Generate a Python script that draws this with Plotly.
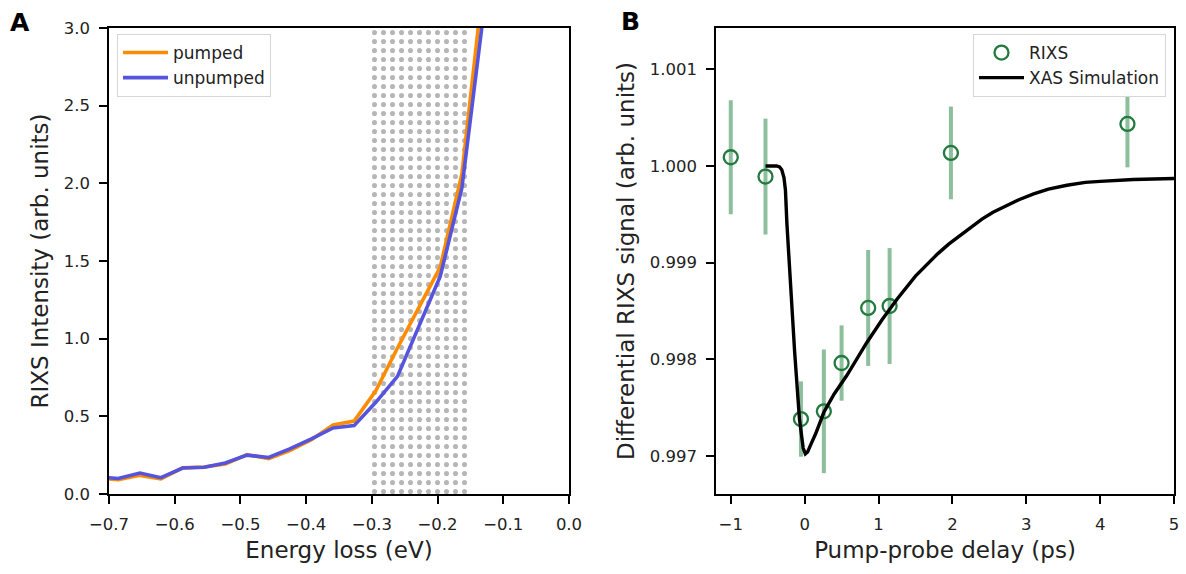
import plotly.graph_objects as go

# ---------------- Panel A data ----------------
energy = [-0.719, -0.686, -0.653, -0.621, -0.588, -0.555, -0.523, -0.490, -0.457,
          -0.425, -0.392, -0.359, -0.327, -0.294, -0.261, -0.229, -0.196, -0.163, -0.131]
pumped = [0.105, 0.092, 0.120, 0.098, 0.168, 0.174, 0.193, 0.253, 0.228,
          0.280, 0.350, 0.445, 0.470, 0.665, 0.940, 1.200, 1.460, 2.060, 3.270]
unpumped = [0.110, 0.100, 0.135, 0.105, 0.167, 0.172, 0.200, 0.250, 0.235,
            0.290, 0.355, 0.425, 0.440, 0.590, 0.757, 1.080, 1.400, 1.970, 3.060]
hatch_lo, hatch_hi = -0.30, -0.15

# ---------------- Panel B data ----------------
delay = [-1.00, -0.53, -0.05, 0.26, 0.50, 0.86, 1.15, 1.98, 4.37]
rixs = [1.00009, 0.99989, 0.99738, 0.99746, 0.99796, 0.99853, 0.99855, 1.000135, 1.000435]
rixs_err = [0.00059, 0.00060, 0.00039, 0.00064, 0.00039, 0.00060, 0.00060, 0.00048, 0.00045]

sim_t = [-0.53, -0.45, -0.38, -0.34, -0.31, -0.28, -0.26, -0.24, -0.19, -0.135, -0.07,
         -0.02, 0.01, 0.04, 0.08, 0.15, 0.26, 0.40, 0.57, 0.70, 0.84, 1.05, 1.25, 1.50,
         1.65, 1.80, 1.95, 2.10, 2.25, 2.40, 2.55, 2.70, 2.90, 3.10, 3.30, 3.55, 3.80,
         4.00, 4.45, 5.00]
sim_v = [1.00000, 1.00000, 1.00000, 0.99999, 0.99996, 0.99988, 0.99975, 0.99940, 0.99875,
         0.99807, 0.99738, 0.99708, 0.99702, 0.99704, 0.99711, 0.99723, 0.99745, 0.99764,
         0.99783, 0.99800, 0.99817, 0.99841, 0.99862, 0.99886, 0.99898, 0.99909, 0.99919,
         0.99928, 0.99937, 0.99945, 0.99952, 0.99958, 0.99965, 0.99971, 0.99976, 0.99980,
         0.99983, 0.99984, 0.99986, 0.99987]

FONT = "DejaVu Sans"
W, H = 1186, 574
TICK = 16.5
TITLE = 23
LEG = 17

fig = go.Figure()

# hatched energy window (dotted pattern)
fig.add_trace(go.Bar(
    x=[(hatch_lo + hatch_hi) / 2], y=[3.0], width=[hatch_hi - hatch_lo], base=0,
    marker=dict(color="white", line=dict(width=0),
                pattern=dict(shape=".", fgcolor="#6e6e6e", bgcolor="white", size=9, solidity=0.25)),
    showlegend=False, hoverinfo="skip", xaxis="x", yaxis="y"))

fig.add_trace(go.Scatter(x=energy, y=pumped, mode="lines", name="pumped",
                         line=dict(color="#ff8c00", width=3.6), xaxis="x", yaxis="y",
                         legend="legend"))
fig.add_trace(go.Scatter(x=energy, y=unpumped, mode="lines", name="unpumped",
                         line=dict(color="#5454dc", width=3.6), xaxis="x", yaxis="y",
                         legend="legend"))

fig.add_trace(go.Scatter(x=delay, y=rixs, mode="markers", name="RIXS",
                         marker=dict(symbol="circle-open", size=14, color="#237a3e",
                                     line=dict(width=2.3, color="#237a3e")),
                         error_y=dict(type="data", array=rixs_err, visible=True,
                                      color="#8dbf9c", thickness=4, width=0),
                         xaxis="x2", yaxis="y2", legend="legend2"))
fig.add_trace(go.Scatter(x=sim_t, y=sim_v, mode="lines", name="XAS Simulation",
                         line=dict(color="black", width=3.4),
                         xaxis="x2", yaxis="y2", legend="legend2"))

axis_common = dict(showline=True, mirror=True, linecolor="black", linewidth=1.6,
                   ticks="outside", ticklen=8, tickwidth=1.6, tickcolor="black",
                   showgrid=False, zeroline=False, automargin=False,
                   ticklabelstandoff=6,
                   tickfont=dict(family=FONT, size=TICK, color="#222222"))

ya, yb = 1 - 494 / H, 1 - 28 / H

fig.update_layout(
    width=W, height=H, margin=dict(l=0, r=0, t=0, b=0),
    paper_bgcolor="white", plot_bgcolor="white",
    font=dict(family=FONT, color="black"),
    bargap=0,
    xaxis=dict(domain=[109 / W, 569 / W], range=[-0.7, 0.0],
               tickvals=[-0.7, -0.6, -0.5, -0.4, -0.3, -0.2, -0.1, 0.0],
               ticktext=["\u22120.7", "\u22120.6", "\u22120.5", "\u22120.4", "\u22120.3",
                         "\u22120.2", "\u22120.1", "0.0"],
               title=dict(text="Energy loss (eV)", font=dict(family=FONT, size=TITLE, color="#222222"), standoff=9),
               anchor="y", **axis_common),
    yaxis=dict(domain=[ya, yb], range=[0, 3.0], tickvals=[0, 0.5, 1.0, 1.5, 2.0, 2.5, 3.0],
               tickformat=".1f",
               title=dict(text="RIXS Intensity (arb. units)", font=dict(family=FONT, size=TITLE, color="#222222"), standoff=9),
               anchor="x", **axis_common),
    xaxis2=dict(domain=[716 / W, 1174 / W], range=[-1.2, 5.0],
                tickvals=[-1, 0, 1, 2, 3, 4, 5],
                ticktext=["\u22121", "0", "1", "2", "3", "4", "5"],
                title=dict(text="Pump-probe delay (ps)", font=dict(family=FONT, size=TITLE, color="#222222"), standoff=9),
                anchor="y2", **axis_common),
    yaxis2=dict(domain=[ya, yb], range=[0.996604, 1.001428],
                tickvals=[0.997, 0.998, 0.999, 1.000, 1.001], tickformat=".3f",
                title=dict(text="Differential RIXS signal (arb. units)", font=dict(family=FONT, size=TITLE, color="#222222"), standoff=9),
                anchor="x2", **axis_common),
    legend=dict(x=117 / W, y=1 - 34 / H, xanchor="left", yanchor="top",
                bgcolor="white", bordercolor="#d6d6d6", borderwidth=1, itemwidth=45,
                font=dict(family=FONT, size=LEG, color="#222222")),
    legend2=dict(x=1166 / W, y=1 - 34 / H, xanchor="right", yanchor="top",
                 bgcolor="white", bordercolor="#d6d6d6", borderwidth=1, itemwidth=45,
                 font=dict(family=FONT, size=LEG, color="#222222")),
    annotations=[
        dict(text="<b>A</b>", x=20 / W, y=1 - 22 / H, xref="paper", yref="paper",
             xanchor="center", yanchor="middle",
             showarrow=False, font=dict(family=FONT, size=25, color="black")),
        dict(text="<b>B</b>", x=630 / W, y=1 - 21 / H, xref="paper", yref="paper",
             xanchor="center", yanchor="middle",
             showarrow=False, font=dict(family=FONT, size=25, color="black")),
    ],
)

fig.write_html("out.html")
